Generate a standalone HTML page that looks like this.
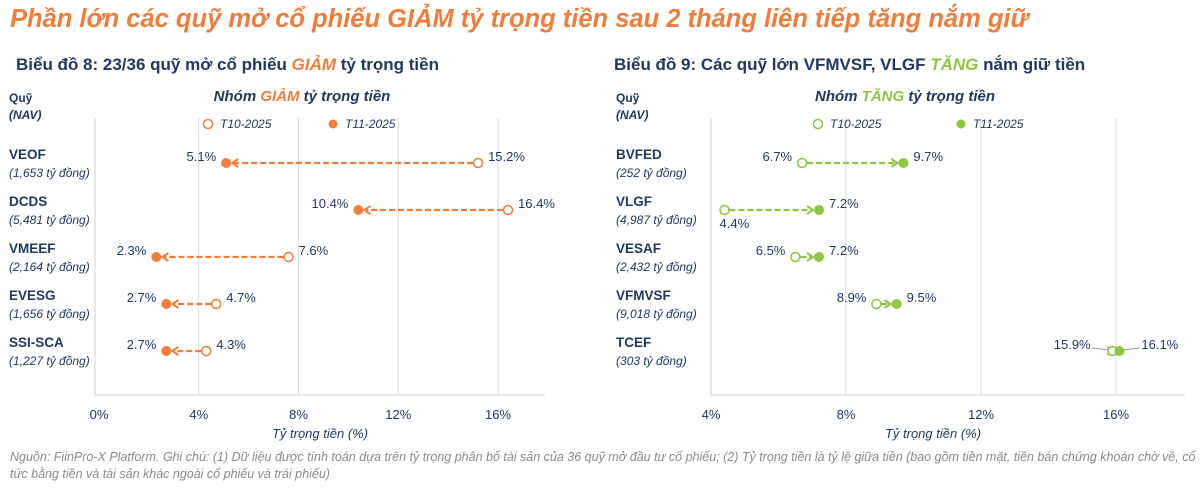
<!DOCTYPE html>
<html><head><meta charset="utf-8"><style>
body{margin:0;background:#fff;width:1200px;height:490px;overflow:hidden;font-family:"Liberation Sans","Noto Sans CJK SC",sans-serif;}
svg{display:block}
</style></head><body>
<svg id="s" width="1200" height="490" font-family="Liberation Sans, Noto Sans CJK SC, sans-serif">
<text x="10" y="27" font-size="25.5" font-weight="bold" font-style="italic" fill="#F07D3A">Phần lớn các quỹ mở cổ phiếu GIẢM tỷ trọng tiền sau 2 tháng liên tiếp tăng nắm giữ</text>
<text x="16" y="70" font-size="17" font-weight="bold" fill="#1F3864">Biểu đồ 8: 23/36 quỹ mở cổ phiếu <tspan fill="#F07D3A" font-style="italic">GIẢM</tspan> tỷ trọng tiền</text>
<text x="614" y="70" font-size="17" font-weight="bold" fill="#1F3864">Biểu đồ 9: Các quỹ lớn VFMVSF, VLGF <tspan fill="#8DC63F" font-style="italic">TĂNG</tspan> nắm giữ tiền</text>
<text x="10" y="461" font-size="12.5" font-style="italic" fill="#8a8a8a">Nguồn: FiinPro-X Platform. Ghi chú: (1) Dữ liệu được tính toán dựa trên tỷ trọng phân bổ tài sản của 36 quỹ mở đầu tư cổ phiếu; (2) Tỷ trọng tiền là tỷ lệ giữa tiền (bao gồm tiền mặt, tiền bán chứng khoán chờ về, cổ</text>
<text x="10" y="478" font-size="12.5" font-style="italic" fill="#8a8a8a">tức bằng tiền và tài sản khác ngoài cổ phiếu và trái phiếu)</text>
</svg>
<script>
const fundsA=["VEOF","DCDS","VMEEF","EVESG","SSI-SCA"];
const navA=["(1,653 tỷ đồng)","(5,481 tỷ đồng)","(2,164 tỷ đồng)","(1,656 tỷ đồng)","(1,227 tỷ đồng)"];
const oldA=[15.2,16.4,7.6,4.7,4.3];
const newA=[5.1,10.4,2.3,2.7,2.7];
const ticksA=[0,4,8,12,16];
const fundsB=["BVFED","VLGF","VESAF","VFMVSF","TCEF"];
const navB=["(252 tỷ đồng)","(4,987 tỷ đồng)","(2,432 tỷ đồng)","(9,018 tỷ đồng)","(303 tỷ đồng)"];
const oldB=[6.7,4.4,6.5,8.9,15.9];
const newB=[9.7,7.2,7.2,9.5,16.1];
const ticksB=[4,8,12,16];
const S=document.getElementById('s');
const NS="http://www.w3.org/2000/svg";
function mk(t,a,txt){const e=document.createElementNS(NS,t);for(const k in a)e.setAttribute(k,a[k]);if(txt!==undefined)e.textContent=txt;S.appendChild(e);return e;}
function chart(o){
 const xs=v=>o.x0+(v-o.vmin)*o.k;
 const rowY=i=>163+i*47;
 o.ticks.forEach(t=>{
  if(t!==o.vmin){const g=mk('line',{x1:xs(t),x2:xs(t),y1:118,y2:395,stroke:'#d9d9d9','stroke-width':1});
  
  }
  const l=mk('text',{x:xs(t),y:419,'font-size':13,fill:'#1F3864','text-anchor':'middle'},t+'%');
  
  
 });
 let ax=mk('line',{x1:o.axL,x2:o.axL,y1:118,y2:395,stroke:'#d0d0d0'});
 
 ax=mk('line',{x1:o.axL,x2:o.axR,y1:395,y2:395,stroke:'#d0d0d0'});
 
 let t=mk('text',{x:(o.axL+o.axR)/2+o.xtOff,y:438,'font-size':13,'font-style':'italic',fill:'#1F3864','text-anchor':'middle'},'Tỷ trọng tiền (%)');
 
 t=mk('text',{x:o.lx,y:102,'font-size':12,'font-weight':'bold',fill:'#1F3864'},'Quỹ');
 
 t=mk('text',{x:o.lx,y:119,'font-size':12,'font-weight':'bold','font-style':'italic',fill:'#1F3864'},'(NAV)');
 
 t=mk('text',{x:o.gx,y:101,'font-size':15,'font-weight':'bold','font-style':'italic',fill:'#1F3864','text-anchor':'middle'});
 t.innerHTML='Nhóm <tspan fill="'+o.c+'">'+o.word+'</tspan> tỷ trọng tiền';
 
 let c=mk('circle',{cx:o.lg1,cy:124,r:4.5,fill:'#fff',stroke:o.c,'stroke-width':1.5});
 
 t=mk('text',{x:o.lg1+12,y:128,'font-size':12,'font-style':'italic',fill:'#1F3864'},'T10-2025');
 
 c=mk('circle',{cx:o.lg2,cy:124,r:4.5,fill:o.c});
 
 t=mk('text',{x:o.lg2+12,y:128,'font-size':12,'font-style':'italic',fill:'#1F3864'},'T11-2025');
 
 o.funds.forEach((f,i)=>{
  const y=rowY(i);
  let n=mk('text',{x:o.lx,y:y-4,'font-size':13.5,'font-weight':'bold',fill:'#1F3864'},f);
  
  n=mk('text',{x:o.lx,y:y+14,'font-size':12,'font-style':'italic',fill:'#1F3864'},o.nav[i]);
  
  const xo=xs(o.old[i]),xn=xs(o.nw[i]);const dir=xn>xo?1:-1;
  const ln=mk('line',{x1:xo+dir*5,x2:xn-dir*7,y1:y,y2:y,stroke:o.c,'stroke-width':2.2,'stroke-dasharray':'6,3'});
  
  const ah=mk('path',{d:`M${xn-dir*12},${y-4} L${xn-dir*6},${y} L${xn-dir*12},${y+4}`,fill:'none',stroke:o.c,'stroke-width':2});
  
  const po=mk('circle',{cx:xo,cy:y,r:4.5,fill:'#fff',stroke:o.c,'stroke-width':1.5});
  
  const pn=mk('circle',{cx:xn,cy:y,r:5,fill:o.c});
  
  const lo=Math.min(xo,xn),hi=Math.max(xo,xn);
  const vLo=xo<xn?o.old[i]:o.nw[i],vHi=xo<xn?o.nw[i]:o.old[i];
  let a,b;
  if(o.below&&o.below(i)){a=mk('text',{x:lo-5,y:y+18,'font-size':13,fill:'#1F3864'},vLo.toFixed(1)+'%');}
  else a=mk('text',{x:lo-(hi-lo<15?22:10),y:y-2,'font-size':13,fill:'#1F3864','text-anchor':'end'},vLo.toFixed(1)+'%');
  b=mk('text',{x:hi+(hi-lo<15?22:10),y:y-2,'font-size':13,fill:'#1F3864'},vHi.toFixed(1)+'%');
  
  
  if(hi-lo<15){
   const l1=mk('line',{x1:lo-20,x2:lo-4,y1:y-3,y2:y-1,stroke:'#999'});
   const l2=mk('line',{x1:hi+4,x2:hi+20,y1:y-1,y2:y-3,stroke:'#999'});
  }
 });
}
chart({funds:fundsA,nav:navA,old:oldA,nw:newA,ticks:ticksA,vmin:0,x0:99,k:24.94,axL:95,axR:545,lx:9,gx:302,lg1:208,lg2:333,c:'#F07D3A',word:'GIẢM',xtOff:0});
chart({funds:fundsB,nav:navB,old:oldB,nw:newB,ticks:ticksB,vmin:4,x0:711,k:33.75,axL:711,axR:1185,lx:616,gx:905,lg1:818,lg2:961,c:'#8DC63F',word:'TĂNG',xtOff:-15,below:i=>fundsB[i]==="VLGF"});
</script>
</body></html>
